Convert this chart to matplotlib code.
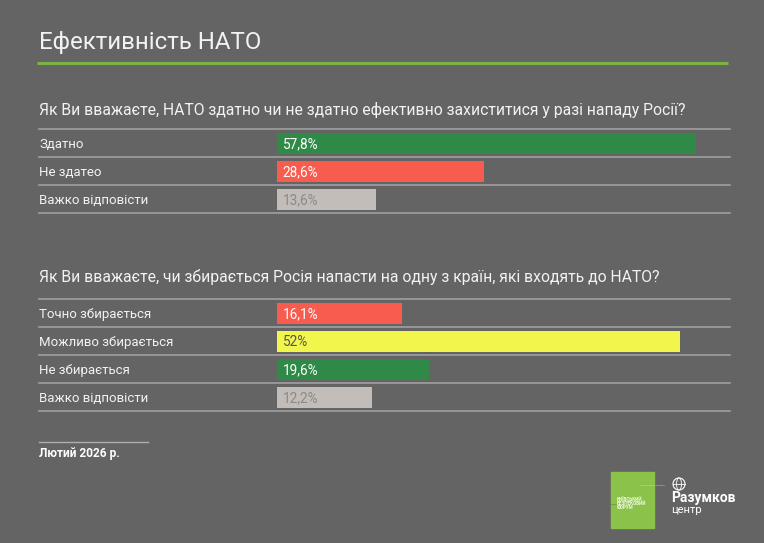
import matplotlib
matplotlib.use("Agg")
import matplotlib.pyplot as plt
from matplotlib.patches import Rectangle, Circle, Ellipse

plt.rcParams['font.family'] = ['Roboto', 'DejaVu Sans']

title = "Ефективність НАТО"
q1 = "Як Ви вважаєте, НАТО здатно чи не здатно ефективно захиститися у разі нападу Росії?"
cats1 = ["Здатно", "Не здатео", "Важко відповісти"]
vals1 = [57.8, 28.6, 13.6]
labels1 = ["57,8%", "28,6%", "13,6%"]
colors1 = ["#2f8a47", "#f75c4f", "#c2bdb8"]
txtcol1 = ["#ffffff", "#ffffff", "#8a8a8a"]

q2 = "Як Ви вважаєте, чи збирається Росія напасти на одну з країн, які входять до НАТО?"
cats2 = ["Точно збирається", "Можливо збирається", "Не збирається", "Важко відповісти"]
vals2 = [16.1, 52.0, 19.6, 12.2]
labels2 = ["16,1%", "52%", "19,6%", "12,2%"]
colors2 = ["#f75c4f", "#f2f54c", "#2f8a47", "#c2bdb8"]
txtcol2 = ["#ffffff", "#555555", "#ffffff", "#8a8a8a"]

footnote = "Лютий 2026 р."

BG = "#646464"
W, H = 764, 543
fig = plt.figure(figsize=(W / 100, H / 100), dpi=100)
fig.patch.set_facecolor(BG)

ov = fig.add_axes([0, 0, 1, 1])
ov.set_xlim(0, W)
ov.set_ylim(H, 0)
ov.axis('off')
ov.set_zorder(0)

ov.text(39, 42, title, fontsize=17.3, color="#f2f2f2", va='center', ha='left')
ov.plot([37, 728], [63, 63], color="#7cb342", lw=2.2, solid_capstyle='butt')

ROW = 28
LINE_C = "#a0a0a0"


def section(q, qy, top, cats, vals, labels, colors, tcols, px_per):
    ov.text(39, qy, q, fontsize=11.3, color="#f2f2f2", va='center', ha='left')
    n = len(cats)
    for i in range(n + 1):
        y = top + ROW * i
        ov.plot([39, 730], [y, y], color=LINE_C, lw=1.2)
    for i, c in enumerate(cats):
        ov.text(39, top + ROW * (i + 0.5), c, fontsize=9.5, color="#f2f2f2",
                va='center_baseline', ha='left')
    left, right = 277, 730
    ax = fig.add_axes([left / W, 1 - (top + ROW * n) / H, (right - left) / W, ROW * n / H])
    ax.set_zorder(1)
    ax.patch.set_alpha(0)
    ax.set_xlim(0, (right - left) / px_per)
    ax.set_ylim(n - 0.5, -0.5)
    ax.barh(range(n), vals, height=21 / ROW, color=colors, left=0)
    for i, (v, lab, tc) in enumerate(zip(vals, labels, tcols)):
        ax.text(0.8, i, lab, color=tc, fontsize=9.8, va='center_baseline', ha='left')
    ax.axis('off')


section(q1, 110, 129, cats1, vals1, labels1, colors1, txtcol1, 7.25)
section(q2, 277, 299, cats2, vals2, labels2, colors2, txtcol2, 7.75)

ov.plot([39, 148], [442, 442], color="#b0b0b0", lw=1)
ov.text(39, 453, footnote, fontsize=8.6, color="#ffffff", fontweight='bold',
        va='center', ha='left')

# logos
ov.add_patch(Rectangle((611, 472), 43, 56, color="#8bc34a", zorder=2))
ov.plot([640, 664], [485, 485], color="#cfe8a8", lw=0.5, ls=(0, (1, 1)), zorder=3)
ov.plot([611, 617], [504, 504], color="#4a6a2a", lw=0.5, ls=(0, (1, 1)), zorder=3)
for k, t in enumerate(["КИЇВСЬКИЙ", "БЕЗПЕКОВИЙ", "ФОРУМ"]):
    ov.text(617, 499 + k * 4.4, t, fontsize=3.3, color="#eef8e0", va='center',
            ha='left', zorder=3, fontweight='bold')
ov.add_patch(Circle((679, 484), 6, fill=False, ec="#ffffff", lw=0.8))
ov.add_patch(Ellipse((679, 484), 5, 12, fill=False, ec="#ffffff", lw=0.6))
ov.plot([673, 685], [484, 484], color="#ffffff", lw=0.6)
ov.text(671, 498, "Разумков", fontsize=10, fontweight='bold', color="#ffffff",
        va='center', ha='left')
ov.text(671, 510, "центр", fontsize=8, color="#ffffff", va='center', ha='left')

fig.savefig("out.png", dpi=100, facecolor=BG)
